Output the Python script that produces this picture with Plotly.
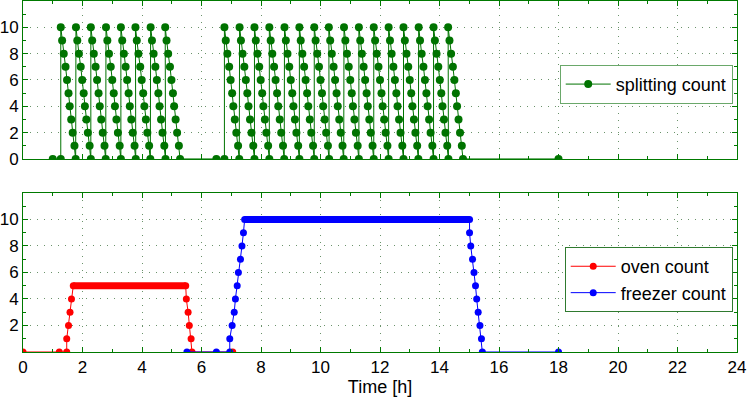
import plotly.graph_objects as go

# ---------------- data ----------------
# splitting count: sawtooth columns (10 -> 0), start times of each column [h]
split_block1_pre = [1.00, 1.27]
split_block1_starts = [1.27, 1.78, 2.28, 2.79, 3.29, 3.78, 4.29, 4.78]
split_block2_pre = [6.50, 6.77]
split_block2_starts = [6.77, 7.28, 7.78, 8.28, 8.79, 9.29, 9.79, 10.28,
                       10.79, 11.29, 11.79, 12.29, 12.79, 13.30, 13.80, 14.29]
split_levels = [10, 9, 8, 7, 6, 5, 4, 3, 2, 1, 0]
split_offsets = [0.00, 0.045, 0.10, 0.16, 0.21, 0.26, 0.30, 0.35, 0.40, 0.46, 0.50]
split_tail_time = [18.0]
split_tail_count = [0]

oven_time = [0.0, 1.22, 1.47, 1.47, 1.53, 1.58, 1.63, 1.69, 5.47, 5.49, 5.55, 5.59, 5.65, 5.68, 7.05]
oven_count = [0, 0, 0, 1, 2, 3, 4, 5, 5, 4, 3, 2, 1, 0, 0]
oven_plateau = [1.69, 5.47]
oven_plateau_level = 5

freezer_time = [5.51, 6.50, 6.95, 6.95, 7.03, 7.10, 7.14, 7.20, 7.24, 7.31, 7.36, 7.41, 7.45,
                15.01, 15.01, 15.05, 15.11, 15.16, 15.21, 15.25, 15.30, 15.36, 15.41, 15.44, 18.0]
freezer_count = [0, 0, 0, 1, 2, 3, 4, 5, 6, 7, 8, 9, 10,
                 10, 9, 8, 7, 6, 5, 4, 3, 2, 1, 0, 0]
freezer_plateau = [7.45, 15.01]
freezer_plateau_level = 10

x_ticks = [0, 2, 4, 6, 8, 10, 12, 14, 16, 18, 20, 22, 24]
top_y_ticks = [0, 2, 4, 6, 8, 10]
bottom_y_ticks = [2, 4, 6, 8, 10]

# ---------------- build the splitting series ----------------
split_time = []
split_count = []
for t in split_block1_pre:
    split_time.append(t); split_count.append(0)
for s in split_block1_starts:
    for off, lv in zip(split_offsets, split_levels):
        split_time.append(s + off); split_count.append(lv)
for t in split_block2_pre:
    split_time.append(t); split_count.append(0)
for s in split_block2_starts:
    for off, lv in zip(split_offsets, split_levels):
        split_time.append(s + off); split_count.append(lv)
split_time += split_tail_time
split_count += split_tail_count

GREEN = '#007300'
AXIS = '#007a00'
GRID = 'rgba(70,120,70,0.8)'
FONT = 'Liberation Sans, Arial, sans-serif'
FS = 17
FS_LEG = 18

fig = go.Figure()

fig.add_trace(go.Scatter(
    x=split_time, y=split_count, mode='lines+markers', name='splitting count',
    line=dict(color=GREEN, width=1), marker=dict(color=GREEN, size=8),
    xaxis='x', yaxis='y', legend='legend'))

fig.add_trace(go.Scatter(
    x=oven_plateau, y=[oven_plateau_level] * 2, mode='lines', showlegend=False,
    line=dict(color='#ff0000', width=7), xaxis='x2', yaxis='y2', hoverinfo='skip'))
fig.add_trace(go.Scatter(
    x=freezer_plateau, y=[freezer_plateau_level] * 2, mode='lines', showlegend=False,
    line=dict(color='#0000ff', width=7), xaxis='x2', yaxis='y2', hoverinfo='skip'))

fig.add_trace(go.Scatter(
    x=oven_time, y=oven_count, mode='lines+markers', name='oven count',
    line=dict(color='#ff0000', width=1), marker=dict(color='#ff0000', size=7),
    xaxis='x2', yaxis='y2', legend='legend2'))
fig.add_trace(go.Scatter(
    x=freezer_time, y=freezer_count, mode='lines+markers', name='freezer count',
    line=dict(color='#0000ff', width=1), marker=dict(color='#0000ff', size=7),
    xaxis='x2', yaxis='y2', legend='legend2'))

common_x = dict(range=[0, 24], tickvals=x_ticks, ticks='inside', ticklen=5,
                tickcolor=AXIS, showline=True, linecolor=AXIS, linewidth=1,
                mirror='allticks', showgrid=True, gridcolor=GRID, griddash='1px,6px',
                gridwidth=1, zeroline=False, automargin=False,
                minor=dict(dtick=1, tick0=0, ticks='inside', ticklen=3, tickcolor=AXIS, showgrid=False),
                tickfont=dict(size=FS, color='black', family=FONT))
common_y = dict(range=[0, 12], ticks='inside', ticklen=5,
                tickcolor=AXIS, showline=True, linecolor=AXIS, linewidth=1,
                mirror='allticks', showgrid=True, gridcolor=GRID, griddash='1px,6px',
                gridwidth=1, zeroline=False, automargin=False,
                minor=dict(dtick=1, tick0=0, ticks='inside', ticklen=3, tickcolor=AXIS, showgrid=False),
                tickfont=dict(size=FS, color='black', family=FONT))

fig.update_layout(
    width=748, height=398,
    margin=dict(l=23, r=11, t=1, b=46),
    paper_bgcolor='white', plot_bgcolor='white',
    font=dict(family=FONT, size=FS, color='black'),
    xaxis=dict(common_x, domain=[0, 1], anchor='y', showticklabels=False),
    yaxis=dict(common_y, domain=[0.55, 1], anchor='x', tickvals=top_y_ticks, ticklabelstandoff=0),
    xaxis2=dict(common_x, domain=[0, 1], anchor='y2',
                title=dict(text='Time [h]', standoff=0, font=dict(size=FS_LEG, family=FONT))),
    yaxis2=dict(common_y, domain=[0, 0.453], anchor='x2', tickvals=bottom_y_ticks, ticklabelstandoff=0),
    legend=dict(x=0.994, xanchor='right', y=0.818, yanchor='top',
                bgcolor='white', bordercolor='#6aa86a', borderwidth=1,
                font=dict(size=FS_LEG, family=FONT), itemwidth=45),
    legend2=dict(x=0.994, xanchor='right', y=0.299, yanchor='top',
                 bgcolor='white', bordercolor='#2f7a2f', borderwidth=1,
                 font=dict(size=FS_LEG, family=FONT), itemwidth=45, tracegroupgap=0),
    showlegend=True,
)

fig.write_html('out.html', config={'displayModeBar': False},
               post_script="document.body.style.margin='0';document.body.style.overflow='hidden';")
